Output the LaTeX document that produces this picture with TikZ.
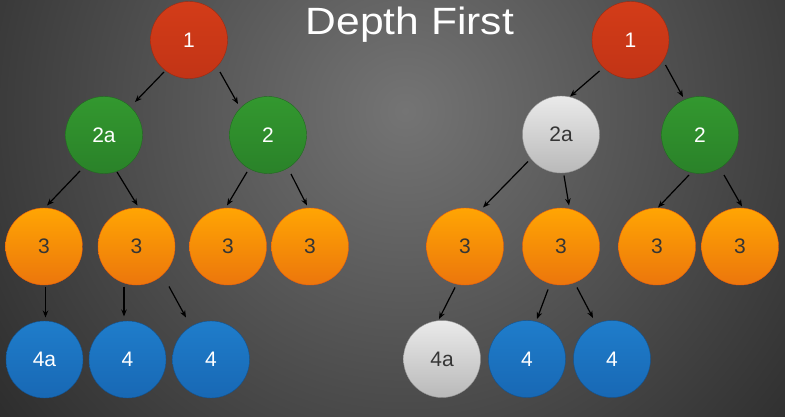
\documentclass[tikz,border=0pt]{standalone}
\usepackage{fontspec}
\setmainfont{Liberation Sans}
\usetikzlibrary{calc,arrows.meta}
\definecolor{bgin}{HTML}{747474}
\definecolor{bgout}{HTML}{262626}
\definecolor{redT}{HTML}{D33C18}
\definecolor{redB}{HTML}{C23416}
\definecolor{grnT}{HTML}{33982F}
\definecolor{grnB}{HTML}{2A8229}
\definecolor{orgT}{HTML}{FFA503}
\definecolor{orgB}{HTML}{EC760C}
\definecolor{bluT}{HTML}{1F7DCB}
\definecolor{bluB}{HTML}{1868B4}
\definecolor{gryT}{HTML}{EAEAEA}
\definecolor{gryB}{HTML}{B9B9B9}
\definecolor{darktxt}{HTML}{353535}
\newcommand\labfont{\fontsize{21}{21}\selectfont}
\newcommand\ttlfont{\fontsize{38}{38}\selectfont}
\tikzset{
  nd/.style={circle, minimum size=77pt, inner sep=0pt, font=\labfont},
  redn/.style={nd, top color=redT, bottom color=redB, draw=redB!80!black, line width=0.4pt, text=white},
  grnn/.style={nd, top color=grnT, bottom color=grnB, draw=grnB!80!black, line width=0.4pt, text=white},
  orgn/.style={nd, top color=orgT, bottom color=orgB, draw=orgB!80!red, line width=0.4pt, text=darktxt},
  blun/.style={nd, top color=bluT, bottom color=bluB, draw=bluB!80!black, line width=0.4pt, text=white},
  gryn/.style={nd, top color=gryT, bottom color=gryB, draw=gryB!80!black, line width=0.4pt, text=darktxt},
  arr/.style={-{Stealth[length=7pt,width=5.5pt]}, line width=1.2pt, black}
}
\begin{document}
\begin{tikzpicture}[x=1pt,y=1pt]
\useasboundingbox (0,0) rectangle (785,416);
\begin{scope}
  \clip (0,0) rectangle (785,416);
  \fill[bgout] (0,0) rectangle (785,416);
  \shade[inner color=bgin, outer color=bgout] (405,305) circle (560);
\end{scope}
% title
\node[anchor=base, text=white, font=\ttlfont] (ttl) at (410,381) {\scalebox{1.12}[1]{Depth First}};
% left tree
\node[redn] (L1) at (189,376) {1};
\node[grnn] (L2a) at (104,281) {2a};
\node[grnn] (L2) at (268,281) {2};
\node[orgn] (L3a) at (44,169.5) {3};
\node[orgn] (L3b) at (136.5,169.5) {3};
\node[orgn] (L3c) at (228,169.5) {3};
\node[orgn] (L3d) at (310,169.5) {3};
\node[blun] (L4a) at (44.5,56.5) {4a};
\node[blun] (L4b) at (127.5,56.5) {4};
\node[blun] (L4c) at (211,56.5) {4};
% right tree
\node[redn] (R1) at (630.5,376) {1};
\node[gryn] (R2a) at (561,281.5) {2a};
\node[grnn] (R2) at (700,281) {2};
\node[orgn] (R3a) at (465,169.5) {3};
\node[orgn] (R3b) at (561,169.5) {3};
\node[orgn] (R3c) at (657,169.5) {3};
\node[orgn] (R3d) at (740,169.5) {3};
\node[gryn] (R4a) at (442,57) {4a};
\node[blun] (R4b) at (527,57) {4};
\node[blun] (R4c) at (612,57) {4};
% left arrows
\draw[arr] ($(L1)+(-25,-32)$) -- ($(L2a)+(31,33)$);
\draw[arr] ($(L1)+(31,-32)$) -- ($(L2)+(-30,31)$);
\draw[arr] ($(L2a)+(-24,-36)$) -- ($(L3a)+(3,41)$);
\draw[arr] ($(L2a)+(13,-37)$) -- ($(L3b)+(1,41)$);
\draw[arr] ($(L2)+(-21,-37)$) -- ($(L3c)+(-1,41)$);
\draw[arr] ($(L2)+(23,-39)$) -- ($(L3d)+(-3,41)$);
\draw[arr] ($(L3a)+(1.5,-40)$) -- ($(L4a)+(1,42)$);
\draw[arr] ($(L3b)+(-12.5,-40)$) -- ($(L4b)+(-3.5,43)$);
\draw[arr] ($(L3b)+(32.5,-40)$) -- ($(L4c)+(-25,42)$);
% right arrows
\draw[arr] ($(R1)+(-31,-31)$) -- ($(R2a)+(9,38)$);
\draw[arr] ($(R1)+(35,-25)$) -- ($(R2)+(-17,38)$);
\draw[arr] ($(R2a)+(-33,-27)$) -- ($(R3a)+(18,39)$);
\draw[arr] ($(R2a)+(3,-41)$) -- ($(R3b)+(8,41)$);
\draw[arr] ($(R2)+(-11,-40)$) -- ($(R3c)+(1,39)$);
\draw[arr] ($(R2)+(24,-40)$) -- ($(R3d)+(2,40)$);
\draw[arr] ($(R3a)+(-10,-41)$) -- ($(R4a)+(-3,40)$);
\draw[arr] ($(R3b)+(-13,-43)$) -- ($(R4b)+(10,40)$);
\draw[arr] ($(R3b)+(16,-41)$) -- ($(R4c)+(-19,41)$);
\end{tikzpicture}
\end{document}
